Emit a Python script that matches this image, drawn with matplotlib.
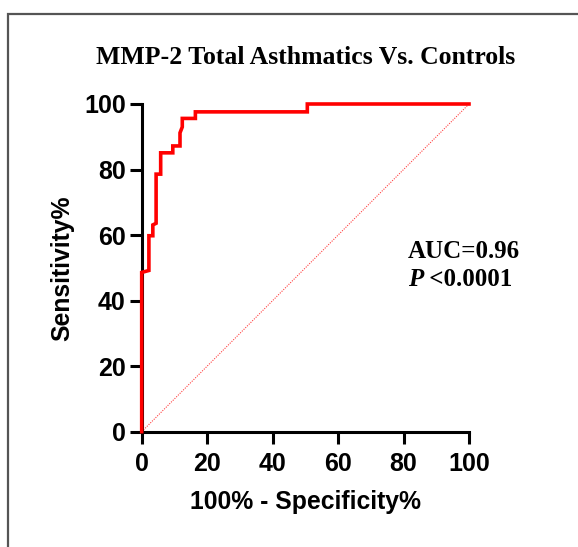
import matplotlib
matplotlib.use("Agg")
import matplotlib.pyplot as plt
from matplotlib.patches import Rectangle

# ROC curve (100% - Specificity%, Sensitivity%)
fpr = [0, 0, 2.2, 2.2, 3.4, 3.4, 4.4, 4.4, 5.8, 5.8, 9.5, 9.5, 11.7, 11.7, 12.4, 12.4, 16.4, 16.4, 50.6, 50.6, 100]
tpr = [0, 48.6, 49.2, 59.8, 59.8, 63.1, 63.6, 78.6, 78.6, 85.1, 85.1, 87.2, 87.2, 91.2, 93.0, 95.6, 95.6, 97.6, 97.6, 100, 100]
ref_x = [0, 100]
ref_y = [0, 100]
xticks = [0, 20, 40, 60, 80, 100]
yticks = [0, 20, 40, 60, 80, 100]
title = "MMP-2 Total Asthmatics Vs. Controls"
auc_text = "AUC=0.96"
p_symbol = "P"
p_text = " <0.0001"

W, H = 578, 547
fig = plt.figure(figsize=(W / 100, H / 100), dpi=100)

# figure border (left and top edges visible)
fig.patches.append(Rectangle((8 / W, -0.05), 1.2, (H - 14) / H + 0.05, transform=fig.transFigure,
                             fill=False, edgecolor="#555555", linewidth=1.6))

ax = fig.add_axes([141.7 / W, (H - 431.7) / H, (469 - 141.7) / W, (431.7 - 104) / H])
ax.plot(fpr, tpr, color="#ff0000", linewidth=2.6, solid_joinstyle="miter", clip_on=False, zorder=3)
ax.plot(ref_x, ref_y, color="#ff0000", linewidth=0.8, linestyle=(0, (1, 1.2)), alpha=0.75, clip_on=False)

ax.set_xlim(0, 100)
ax.set_ylim(0, 100)
ax.set_xticks(xticks)
ax.set_yticks(yticks)
for s in ["top", "right"]:
    ax.spines[s].set_visible(False)
for s in ["left", "bottom"]:
    ax.spines[s].set_linewidth(2.2)
    ax.spines[s].set_color("black")
ax.tick_params(direction="out", length=8.5, width=2.2, labelsize=18)
ax.tick_params(axis="x", pad=6)
ax.tick_params(axis="y", pad=3)
for lab in ax.get_xticklabels() + ax.get_yticklabels():
    lab.set_fontfamily("Liberation Sans")
    lab.set_fontweight("bold")

ax.set_xlabel("100% - Specificity%", fontsize=17.8, fontweight="bold", family="Liberation Sans", labelpad=10)
ax.set_ylabel("Sensitivity%", fontsize=17.8, fontweight="bold", family="Liberation Sans", labelpad=7)

fig.text(306 / W, 1 - 57 / H, title, ha="center", va="center", fontsize=18.5,
         fontweight="bold", family="Liberation Serif")
fig.text(408 / W, 1 - 252 / H, auc_text, ha="left", va="center", fontsize=18,
         fontweight="bold", family="Liberation Serif")
tp = fig.text(408 / W, 1 - 280 / H, p_symbol, ha="left", va="center", fontsize=18,
              fontweight="bold", fontstyle="italic", family="Liberation Serif")
fig.canvas.draw()
bb = tp.get_window_extent(renderer=fig.canvas.get_renderer())
fig.text(bb.x1 / W, 1 - 280 / H, p_text, ha="left", va="center", fontsize=18,
         fontweight="bold", family="Liberation Serif")

fig.savefig("out.png", dpi=100)
